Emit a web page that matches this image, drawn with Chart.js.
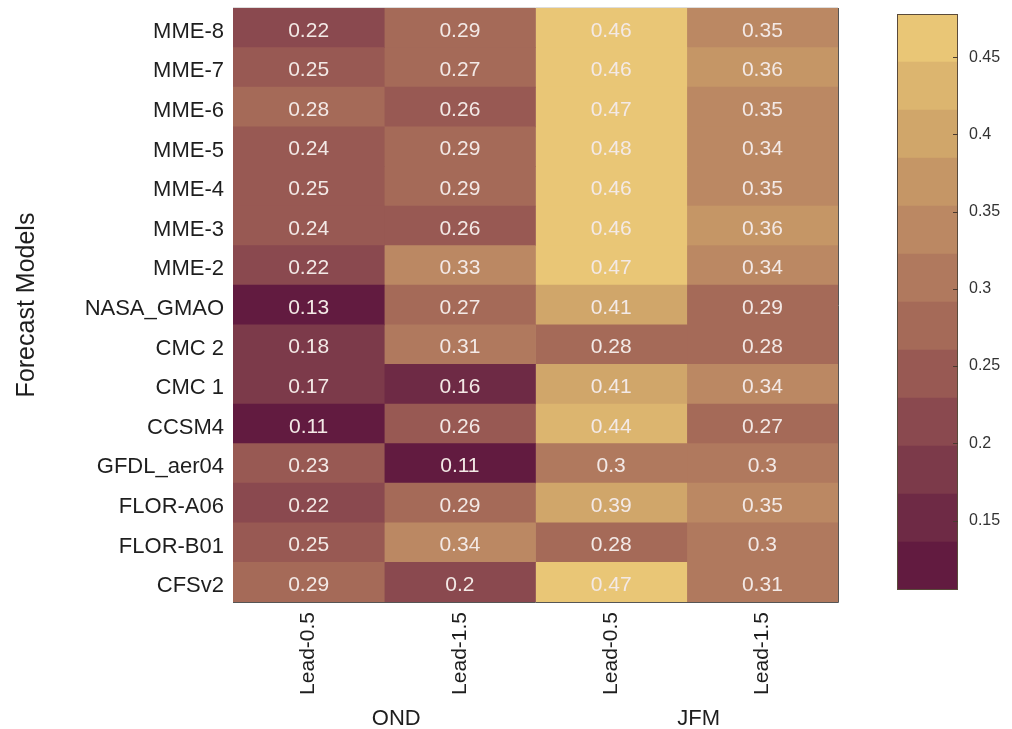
<!DOCTYPE html>
<html>
<head>
<meta charset="utf-8">
<script src="https://cdn.jsdelivr.net/npm/chart.js@4"></script>
<style>
  body { margin: 0; background: #fff; }
  #wrap { position: relative; width: 1012px; height: 729px; }
  #heat { position: absolute; left: 0; top: 0; }
  #bar { position: absolute; left: 870px; top: 0; }
</style>
</head>
<body>
<div id="wrap">
  <canvas id="heat" width="880" height="729"></canvas>
  <canvas id="bar" width="142" height="729"></canvas>
</div>
<script>
// data heatmap
const models = ["MME-8", "MME-7", "MME-6", "MME-5", "MME-4", "MME-3", "MME-2", "NASA_GMAO",
  "CMC 2", "CMC 1", "CCSM4", "GFDL_aer04", "FLOR-A06", "FLOR-B01", "CFSv2"];
const leads = ["Lead-0.5", "Lead-1.5", "Lead-0.5", "Lead-1.5"];
const seasons = ["OND", "JFM"];

// satu array per kolom (atas ke bawah)
const ondLead05 = [0.22, 0.25, 0.28, 0.24, 0.25, 0.24, 0.22, 0.13, 0.18, 0.17, 0.11, 0.23, 0.22, 0.25, 0.29];
const ondLead15 = [0.29, 0.27, 0.26, 0.29, 0.29, 0.26, 0.33, 0.27, 0.31, 0.16, 0.26, 0.11, 0.29, 0.34, 0.2];
const jfmLead05 = [0.46, 0.46, 0.47, 0.48, 0.46, 0.46, 0.47, 0.41, 0.28, 0.41, 0.44, 0.3, 0.39, 0.28, 0.47];
const jfmLead15 = [0.35, 0.36, 0.35, 0.34, 0.35, 0.36, 0.34, 0.29, 0.28, 0.34, 0.27, 0.3, 0.35, 0.3, 0.31];
const columns = [ondLead05, ondLead15, jfmLead05, jfmLead15];

// colorbar
const cMin = 0.105, cMax = 0.478;
const cbTicks = [0.15, 0.2, 0.25, 0.3, 0.35, 0.4, 0.45];
const palette = ["#621b40", "#6e2a45", "#7c3a4a", "#8a494f", "#985953", "#a56a58",
  "#b0795e", "#bb8863", "#c59666", "#d0a66a", "#dcb56f", "#e9c676"];

const FONT = "'Liberation Sans', Arial, sans-serif";
Chart.defaults.font.family = FONT;
Chart.defaults.color = "#1e1e1e";

function colorFor(v) {
  const step = (cMax - cMin) / palette.length;
  let i = Math.floor((v - cMin) / step + 1e-9);
  i = Math.max(0, Math.min(palette.length - 1, i));
  return palette[i];
}

// tulisan angka di tiap sel + label musim + bingkai
const cellText = {
  id: "cellText",
  afterDatasetsDraw(chart) {
    const ctx = chart.ctx;
    ctx.save();
    ctx.font = "21px " + FONT;
    ctx.fillStyle = "#f3e9e6";
    ctx.textAlign = "center";
    ctx.textBaseline = "middle";
    columns.forEach((col, i) => {
      chart.getDatasetMeta(i).data.forEach((bar, j) => {
        ctx.fillText(String(col[j]), (bar.x + bar.base) / 2, bar.y + 3);
      });
    });
    const a = chart.chartArea;
    ctx.strokeStyle = "#555";
    ctx.lineWidth = 1;
    ctx.beginPath();
    ctx.moveTo(a.left, a.bottom + 0.5);
    ctx.lineTo(a.right + 0.5, a.bottom + 0.5);
    ctx.lineTo(a.right + 0.5, a.top);
    ctx.stroke();
    ctx.strokeStyle = "#ddd";
    ctx.beginPath();
    ctx.moveTo(a.left, a.top - 0.5);
    ctx.lineTo(a.right, a.top - 0.5);
    ctx.stroke();

    const xs = chart.scales.x;
    ctx.font = "22px " + FONT;
    ctx.fillStyle = "#1e1e1e";
    seasons.forEach((s, k) => {
      const mid = xs.getPixelForValue(k * 2 + 1) + 12;
      ctx.fillText(s, mid, 719);
    });
    ctx.restore();
  }
};

new Chart(document.getElementById("heat"), {
  type: "bar",
  data: {
    labels: models,
    datasets: columns.map((col, i) => ({
      label: leads[i],
      data: col.map(() => 1),
      backgroundColor: col.map(colorFor),
      borderWidth: 0,
      barPercentage: 1,
      categoryPercentage: 1
    }))
  },
  options: {
    indexAxis: "y",
    responsive: false,
    animation: false,
    layout: { padding: { top: 8, right: 42, left: 0, bottom: 0 } },
    plugins: { legend: { display: false }, tooltip: { enabled: false } },
    scales: {
      x: {
        type: "linear",
        stacked: true,
        min: 0,
        max: 4,
        grid: { display: false },
        border: { display: false },
        afterBuildTicks: s => { s.ticks = leads.map((_, i) => ({ value: i + 0.5 })); },
        afterFit: s => { s.height = 127; },
        ticks: {
          minRotation: 90,
          maxRotation: 90,
          padding: 2,
          font: { size: 21 },
          callback: v => leads[Math.floor(v)]
        }
      },
      y: {
        stacked: true,
        grid: { display: false },
        border: { display: false },
        afterFit: s => { s.width = 233; s.paddingTop = 0; s.paddingBottom = 0; },
        ticks: { padding: 1, labelOffset: 4, font: { size: 22 } },
        title: {
          display: true,
          text: "Forecast Models",
          font: { size: 25 },
          padding: { top: 12, bottom: 0 }
        }
      }
    }
  },
  plugins: [cellText]
});

// colorbar
const step = (cMax - cMin) / palette.length;
const frame = {
  id: "frame",
  afterDatasetsDraw(chart) {
    const a = chart.chartArea, ctx = chart.ctx, ys = chart.scales.y;
    ctx.save();
    ctx.strokeStyle = "#5a4a3a";
    ctx.lineWidth = 1;
    ctx.strokeRect(a.left + 0.5, a.top + 0.5, a.right - a.left - 1, a.bottom - a.top - 1);
    ctx.strokeStyle = "#4a3a30";
    ctx.beginPath();
    cbTicks.forEach(v => {
      const y = Math.round(ys.getPixelForValue(v)) + 0.5;
      ctx.moveTo(a.right - 5, y);
      ctx.lineTo(a.right, y);
    });
    ctx.stroke();
    ctx.restore();
  }
};

new Chart(document.getElementById("bar"), {
  type: "bar",
  data: {
    labels: [""],
    datasets: palette.map((c, i) => ({
      data: [[cMin + i * step, cMin + (i + 1) * step]],
      backgroundColor: c,
      borderWidth: 0,
      grouped: false,
      barPercentage: 1,
      categoryPercentage: 1
    }))
  },
  options: {
    responsive: false,
    animation: false,
    layout: { padding: { top: 14, left: 27, right: 0, bottom: 139 } },
    plugins: { legend: { display: false }, tooltip: { enabled: false } },
    scales: {
      x: { display: false },
      y: {
        position: "right",
        min: cMin,
        max: cMax,
        afterBuildTicks: s => { s.ticks = cbTicks.map(v => ({ value: v })); },
        afterFit: s => { s.width = 142 - 27 - 61; s.paddingTop = 0; s.paddingBottom = 0; },
        grid: { display: false },
        border: { display: false },
        ticks: { padding: 3, font: { size: 16 }, color: "#333", callback: v => String(v) }
      }
    }
  },
  plugins: [frame]
});
</script>
</body>
</html>
